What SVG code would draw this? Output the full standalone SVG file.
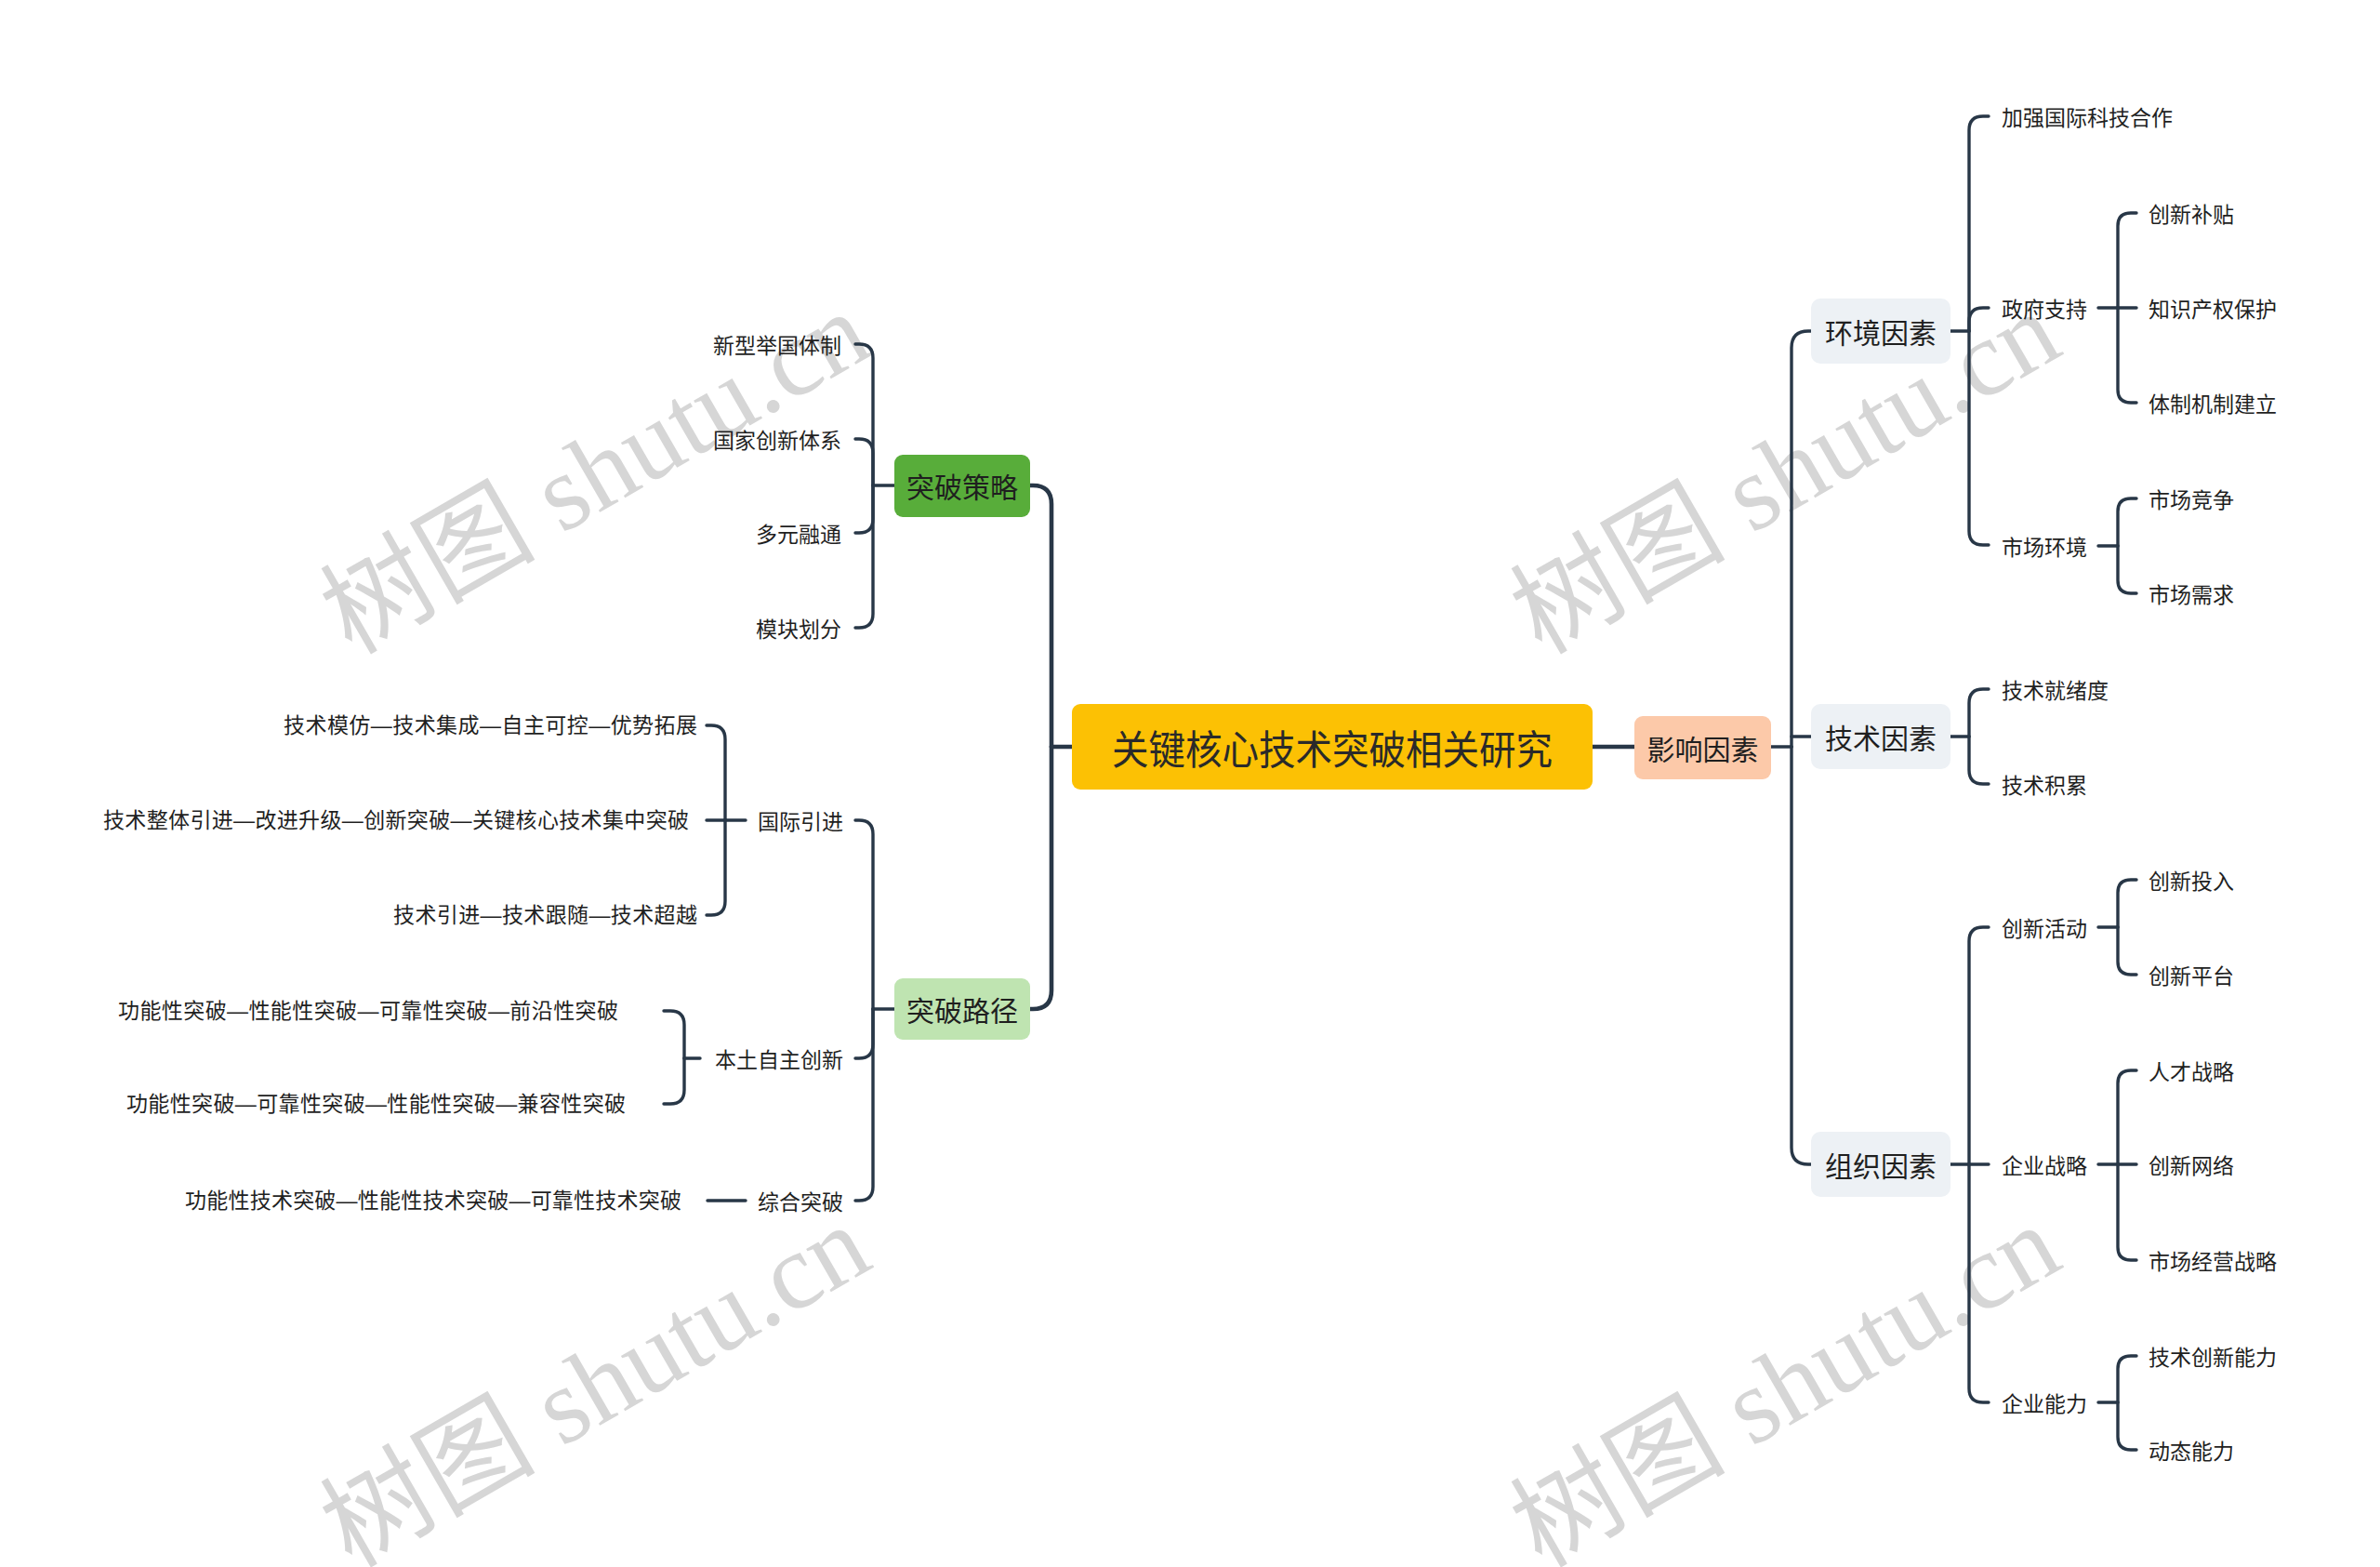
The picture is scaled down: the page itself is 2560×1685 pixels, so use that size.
<svg xmlns="http://www.w3.org/2000/svg" width="2560" height="1685" viewBox="0 0 2560 1685">
<defs>
<style>
.bg{fill:#ffffff}
.wm{font-family:"Liberation Serif","Noto Sans CJK SC",serif;font-size:116px;fill:#d6d6d6}
.c1{fill:none;stroke:#283747;stroke-width:4.6;stroke-linecap:round;stroke-linejoin:round}
.c2{fill:none;stroke:#283747;stroke-width:3.4;stroke-linecap:round;stroke-linejoin:round}
.t{font-family:"Noto Sans CJK SC","Microsoft YaHei",sans-serif;fill:#1f1f1f;dominant-baseline:central}
.t0{font-size:43px;text-anchor:middle;fill:#2a2a2a}
.t1{font-size:30px;text-anchor:middle}
.t3{font-size:23px}
.d{font-family:"Liberation Sans","Noto Sans CJK SC",sans-serif}
.s{text-anchor:start}
.e{text-anchor:end}
.root{fill:#FCC104}
.inf{fill:#FCC9A9}
.stg{fill:#58AD3A}
.pth{fill:#BFE4B1}
.l2{fill:#EDF1F5}
</style>
</defs>
<rect class="bg" x="0" y="0" width="2560" height="1685"/>

<g id="watermark">
<text class="wm" transform="translate(378,705) rotate(-30)">树图 shutu.cn</text>
<text class="wm" transform="translate(1658,705) rotate(-30)">树图 shutu.cn</text>
<text class="wm" transform="translate(378,1687) rotate(-30)">树图 shutu.cn</text>
<text class="wm" transform="translate(1658,1687) rotate(-30)">树图 shutu.cn</text>
</g>

<g id="connectors">
<path class="c1" d="M1713,803 H1758"/>
<path class="c1" d="M1153,803 H1131"/>
<path class="c1" d="M1131,803 V542 Q1131,522 1111,522 H1108"/>
<path class="c1" d="M1131,803 V1065 Q1131,1085 1111,1085 H1108"/>
<path class="c2" d="M1905,803 H1927"/>
<path class="c2" d="M1927,803 V374 Q1927,356 1945,356 H1948"/>
<path class="c2" d="M1927,792 H1948"/>
<path class="c2" d="M1927,803 V1234 Q1927,1252 1945,1252 H1948"/>
<path class="c2" d="M2098,356 H2118"/>
<path class="c2" d="M2118,356 V140 Q2118,125 2133,125 H2139"/>
<path class="c2" d="M2118,356 V346 Q2118,331 2133,331 H2139"/>
<path class="c2" d="M2118,356 V571 Q2118,586 2133,586 H2139"/>
<path class="c2" d="M2098,792 H2118"/>
<path class="c2" d="M2118,792 V756 Q2118,741 2133,741 H2139"/>
<path class="c2" d="M2118,792 V828 Q2118,843 2133,843 H2139"/>
<path class="c2" d="M2098,1252 H2118"/>
<path class="c2" d="M2118,1252 V1012 Q2118,997 2133,997 H2139"/>
<path class="c2" d="M2118,1252 H2139"/>
<path class="c2" d="M2118,1252 V1493 Q2118,1508 2133,1508 H2139"/>
<path class="c2" d="M2257,331 H2278"/>
<path class="c2" d="M2278,331 V243 Q2278,229 2292,229 H2298"/>
<path class="c2" d="M2278,331 H2298"/>
<path class="c2" d="M2278,331 V419 Q2278,433 2292,433 H2298"/>
<path class="c2" d="M2257,587 H2278"/>
<path class="c2" d="M2278,587 V550 Q2278,536 2292,536 H2298"/>
<path class="c2" d="M2278,587 V624 Q2278,638 2292,638 H2298"/>
<path class="c2" d="M2257,997 H2278"/>
<path class="c2" d="M2278,997 V960 Q2278,946 2292,946 H2298"/>
<path class="c2" d="M2278,997 V1034 Q2278,1048 2292,1048 H2298"/>
<path class="c2" d="M2257,1252 H2278"/>
<path class="c2" d="M2278,1252 V1165 Q2278,1151 2292,1151 H2298"/>
<path class="c2" d="M2278,1252 H2298"/>
<path class="c2" d="M2278,1252 V1341 Q2278,1355 2292,1355 H2298"/>
<path class="c2" d="M2257,1508 H2278"/>
<path class="c2" d="M2278,1508 V1472 Q2278,1458 2292,1458 H2298"/>
<path class="c2" d="M2278,1508 V1545 Q2278,1559 2292,1559 H2298"/>
<path class="c2" d="M962,522 H939"/>
<path class="c2" d="M939,522 V385 Q939,370 924,370 H920"/>
<path class="c2" d="M939,522 V487 Q939,472 924,472 H920"/>
<path class="c2" d="M939,522 V558 Q939,573 924,573 H920"/>
<path class="c2" d="M939,522 V660 Q939,675 924,675 H920"/>
<path class="c2" d="M962,1085 H939"/>
<path class="c2" d="M939,1085 V897 Q939,882 924,882 H920"/>
<path class="c2" d="M939,1085 V1123 Q939,1138 924,1138 H920"/>
<path class="c2" d="M939,1085 V1276 Q939,1291 924,1291 H920"/>
<path class="c2" d="M802,882 H780"/>
<path class="c2" d="M780,882 V795 Q780,780 765,780 H760"/>
<path class="c2" d="M780,882 H760"/>
<path class="c2" d="M780,882 V969 Q780,984 765,984 H760"/>
<path class="c2" d="M753,1138 H736"/>
<path class="c2" d="M736,1138 V1102 Q736,1087 721,1087 H714"/>
<path class="c2" d="M736,1138 V1172 Q736,1187 721,1187 H714"/>
<path class="c2" d="M802,1291 H761"/>
</g>

<g id="root">
<rect class="root" x="1153" y="757" width="560" height="92" rx="9"/>
<text class="t t0" x="1433" y="803" textLength="474" lengthAdjust="spacingAndGlyphs">关键核心技术突破相关研究</text>
</g>
<g id="influence">
<rect class="inf" x="1758" y="770" width="147" height="68" rx="9"/>
<text class="t t1" x="1831.5" y="804">影响因素</text>
</g>
<g id="env">
<rect class="l2" x="1948" y="321" width="150" height="70" rx="10"/>
<text class="t t1" x="2023" y="356">环境因素</text>
</g>
<g id="tech">
<rect class="l2" x="1948" y="757" width="150" height="70" rx="10"/>
<text class="t t1" x="2023" y="792">技术因素</text>
</g>
<g id="org">
<rect class="l2" x="1948" y="1217" width="150" height="70" rx="10"/>
<text class="t t1" x="2023" y="1252">组织因素</text>
</g>
<g id="strategy">
<rect class="stg" x="962" y="489" width="146" height="67" rx="9"/>
<text class="t t1" x="1035" y="522">突破策略</text>
</g>
<g id="path">
<rect class="pth" x="962" y="1052" width="146" height="66" rx="9"/>
<text class="t t1" x="1035" y="1085">突破路径</text>
</g>

<g id="n-env-1"><text class="t t3 s" x="2153" y="125">加强国际科技合作</text></g>
<g id="n-gov"><text class="t t3 s" x="2153" y="331">政府支持</text></g>
<g id="n-market"><text class="t t3 s" x="2153" y="587">市场环境</text></g>
<g id="n-tech-1"><text class="t t3 s" x="2153" y="741">技术就绪度</text></g>
<g id="n-tech-2"><text class="t t3 s" x="2153" y="843">技术积累</text></g>
<g id="n-act"><text class="t t3 s" x="2153" y="997">创新活动</text></g>
<g id="n-strat"><text class="t t3 s" x="2153" y="1252">企业战略</text></g>
<g id="n-cap"><text class="t t3 s" x="2153" y="1508">企业能力</text></g>

<g id="n-gov-1"><text class="t t3 s" x="2311" y="229">创新补贴</text></g>
<g id="n-gov-2"><text class="t t3 s" x="2311" y="331">知识产权保护</text></g>
<g id="n-gov-3"><text class="t t3 s" x="2311" y="433">体制机制建立</text></g>
<g id="n-market-1"><text class="t t3 s" x="2311" y="536">市场竞争</text></g>
<g id="n-market-2"><text class="t t3 s" x="2311" y="638">市场需求</text></g>
<g id="n-act-1"><text class="t t3 s" x="2311" y="946">创新投入</text></g>
<g id="n-act-2"><text class="t t3 s" x="2311" y="1048">创新平台</text></g>
<g id="n-strat-1"><text class="t t3 s" x="2311" y="1151">人才战略</text></g>
<g id="n-strat-2"><text class="t t3 s" x="2311" y="1252">创新网络</text></g>
<g id="n-strat-3"><text class="t t3 s" x="2311" y="1355">市场经营战略</text></g>
<g id="n-cap-1"><text class="t t3 s" x="2311" y="1458">技术创新能力</text></g>
<g id="n-cap-2"><text class="t t3 s" x="2311" y="1559">动态能力</text></g>

<g id="n-s1"><text class="t t3 e" x="905" y="370">新型举国体制</text></g>
<g id="n-s2"><text class="t t3 e" x="905" y="472">国家创新体系</text></g>
<g id="n-s3"><text class="t t3 e" x="905" y="573">多元融通</text></g>
<g id="n-s4"><text class="t t3 e" x="905" y="675">模块划分</text></g>

<g id="n-intl"><text class="t t3 e" x="907" y="882">国际引进</text></g>
<g id="n-indi"><text class="t t3 e" x="907" y="1138">本土自主创新</text></g>
<g id="n-comp"><text class="t t3 e" x="907" y="1291">综合突破</text></g>

<g id="n-intl-1"><text class="t t3 d e" x="750" y="780" textLength="445">技术模仿—技术集成—自主可控—优势拓展</text></g>
<g id="n-intl-2"><text class="t t3 d e" x="741" y="882" textLength="630">技术整体引进—改进升级—创新突破—关键核心技术集中突破</text></g>
<g id="n-intl-3"><text class="t t3 d e" x="750" y="984" textLength="327">技术引进—技术跟随—技术超越</text></g>
<g id="n-indi-1"><text class="t t3 d e" x="665" y="1087" textLength="538">功能性突破—性能性突破—可靠性突破—前沿性突破</text></g>
<g id="n-indi-2"><text class="t t3 d e" x="673" y="1187" textLength="537">功能性突破—可靠性突破—性能性突破—兼容性突破</text></g>
<g id="n-comp-1"><text class="t t3 d e" x="733" y="1291" textLength="534">功能性技术突破—性能性技术突破—可靠性技术突破</text></g>
</svg>
